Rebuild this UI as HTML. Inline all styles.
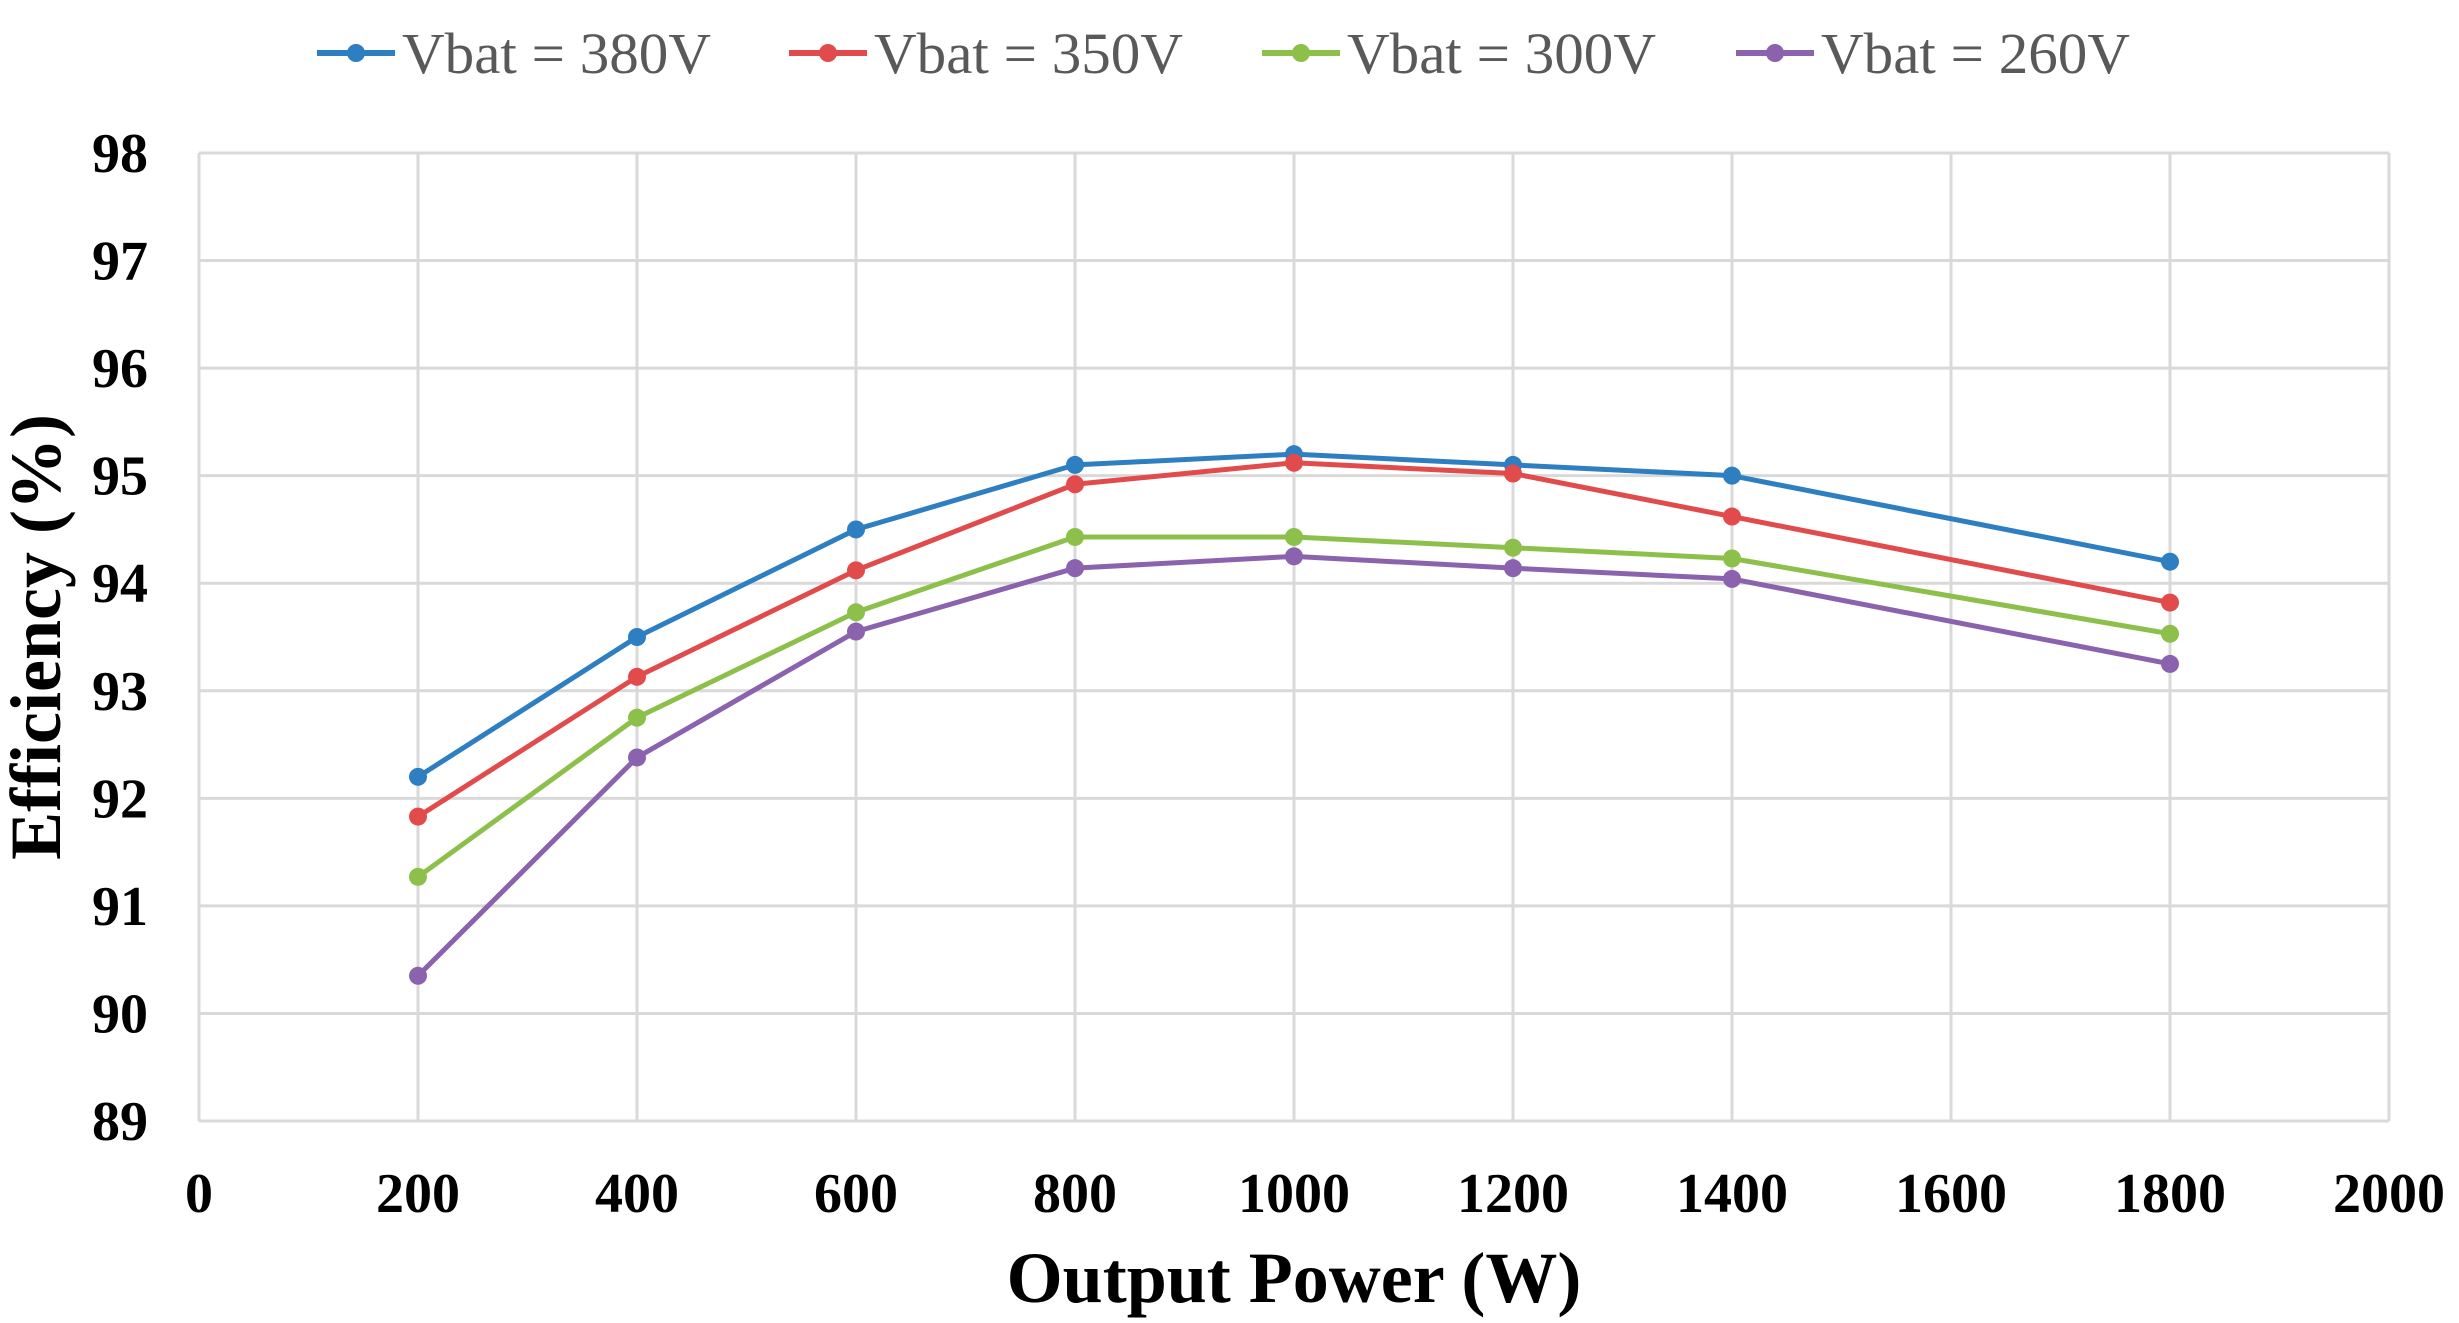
<!DOCTYPE html>
<html><head><meta charset="utf-8"><style>html,body{margin:0;padding:0;background:#fff}svg{display:block}</style></head>
<body>
<svg id="chart" width="2459" height="1323" xmlns="http://www.w3.org/2000/svg" font-family="'Liberation Serif', serif">
<g id="grid"></g>
<g id="axes"></g>
<g id="series"></g>
<g id="legend"></g>
<text x="1294" y="1302" font-size="72" font-weight="bold" text-anchor="middle" fill="#000">Output Power (W)</text>
<text transform="translate(60,637) rotate(-90)" font-size="72" font-weight="bold" text-anchor="middle" fill="#000">Efficiency (%)</text>
</svg>
<script>
const xCats = [200, 400, 600, 800, 1000, 1200, 1400, 1800];
const v380 = [92.2, 93.5, 94.5, 95.1, 95.2, 95.1, 95.0, 94.2];
const v350 = [91.83, 93.13, 94.12, 94.92, 95.12, 95.02, 94.62, 93.82];
const v300 = [91.27, 92.75, 93.73, 94.43, 94.43, 94.33, 94.23, 93.53];
const v260 = [90.35, 92.38, 93.55, 94.14, 94.25, 94.14, 94.04, 93.25];
const seriesNames = ["Vbat = 380V", "Vbat = 350V", "Vbat = 300V", "Vbat = 260V"];
const xTicks = [0, 200, 400, 600, 800, 1000, 1200, 1400, 1600, 1800, 2000];
const yTicks = [89, 90, 91, 92, 93, 94, 95, 96, 97, 98];

const NS = "http://www.w3.org/2000/svg";
const L = 199, R = 2389, T = 153, B = 1121;
const xs = v => L + (v - 0) / 2000 * (R - L);
const ys = v => B - (v - 89) / 9 * (B - T);
function mk(tag, attrs, parent) {
  const e = document.createElementNS(NS, tag);
  for (const k in attrs) e.setAttribute(k, attrs[k]);
  parent.appendChild(e);
  return e;
}
const grid = document.getElementById('grid');
const axes = document.getElementById('axes');
yTicks.forEach(t => {
  const ln = mk('line', {x1: L, x2: R, y1: ys(t), y2: ys(t), stroke: '#d9d9d9', 'stroke-width': 3}, grid);
  
  
  const tx = mk('text', {x: 148, y: ys(t) + 19, 'font-size': 56, 'font-weight': 'bold', 'text-anchor': 'end', fill: '#000'}, axes);
  tx.textContent = t;
  
  
});
xTicks.forEach(t => {
  const ln = mk('line', {x1: xs(t), x2: xs(t), y1: T, y2: B, stroke: '#d9d9d9', 'stroke-width': 3}, grid);
  
  
  const tx = mk('text', {x: xs(t), y: 1212, 'font-size': 56, 'font-weight': 'bold', 'text-anchor': 'middle', fill: '#000'}, axes);
  tx.textContent = t;
  
  
});
const colors = ['#2e7ec2', '#e24b4b', '#8cc04b', '#8b62ad'];
const data = [v380, v350, v300, v260];
const sg = document.getElementById('series');
data.forEach((vals, i) => {
  const g = mk('g', {}, sg);
  
  
  const pts = vals.map((v, j) => xs(xCats[j]) + ',' + ys(v)).join(' ');
  const pl = mk('polyline', {points: pts, fill: 'none', stroke: colors[i], 'stroke-width': 5, 'stroke-linejoin': 'round'}, g);
  
  
  vals.forEach((v, j) => {
    const c = mk('circle', {cx: xs(xCats[j]), cy: ys(v), r: 9, fill: colors[i]}, g);
    
    
  });
});
const lg = document.getElementById('legend');
const lineX = [317, 789, 1262, 1736];
lineX.forEach((x, i) => {
  const g = mk('g', {}, lg);
  
  
  mk('line', {x1: x, x2: x + 78, y1: 53, y2: 53, stroke: colors[i], 'stroke-width': 6}, g);
  mk('circle', {cx: x + 39, cy: 53, r: 9, fill: colors[i]}, g);
  const tx = mk('text', {x: x + 85, y: 73, 'font-size': 58, fill: '#595959', textLength: 309, lengthAdjust: 'spacingAndGlyphs'}, g);
  tx.textContent = seriesNames[i];
});
</script>
</body></html>
